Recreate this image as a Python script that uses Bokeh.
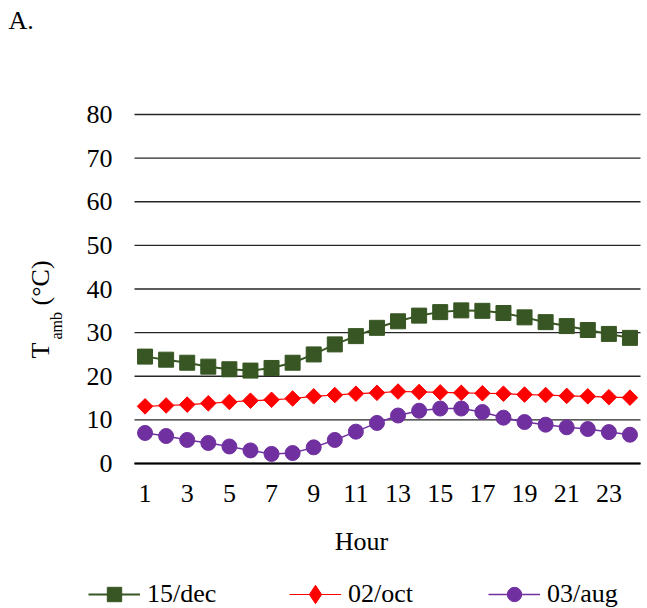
from math import pi

from bokeh.embed import file_html
from bokeh.models import (ColumnDataSource, FixedTicker, Label, Legend,
                          LegendItem, Range1d)
from bokeh.plotting import figure
from bokeh.resources import INLINE

# Hourly ambient temperature (°C) for three days
hours = list(range(1, 25))
dec15 = [24.5, 23.8, 23.1, 22.2, 21.6, 21.3, 21.9, 23.1, 25.0, 27.3, 29.2, 31.1,
         32.6, 33.9, 34.7, 35.1, 35.0, 34.5, 33.5, 32.4, 31.5, 30.6, 29.7, 28.8]
oct02 = [13.1, 13.3, 13.5, 13.8, 14.1, 14.4, 14.6, 14.9, 15.4, 15.7, 16.0, 16.2,
         16.5, 16.4, 16.3, 16.2, 16.1, 16.0, 15.8, 15.7, 15.5, 15.4, 15.2, 15.1]
aug03 = [7.0, 6.3, 5.4, 4.7, 3.9, 3.0, 2.2, 2.4, 3.7, 5.4, 7.3, 9.3,
         11.0, 12.1, 12.6, 12.6, 11.8, 10.5, 9.5, 8.9, 8.3, 7.9, 7.2, 6.6]
series_names = ["15/dec", "02/oct", "03/aug"]
x_ticks = [1, 3, 5, 7, 9, 11, 13, 15, 17, 19, 21, 23]
y_ticks = [0, 10, 20, 30, 40, 50, 60, 70, 80]

FONT = "Liberation Serif"
FS = "26px"

# The frame fills the whole canvas; the plotting area (hours 0.5..24.5,
# 0..80 °C) sits inside it, and the axes are pinned to its edges.
W, H = 647, 608
PA_LEFT, PA_RIGHT, PA_TOP, PA_BOTTOM = 134, 640, 114, 463
X_LO, X_HI = 0.5, 24.5
Y_LO, Y_HI = 0, 80
kx = (X_HI - X_LO) / (PA_RIGHT - PA_LEFT)
ky = (Y_HI - Y_LO) / (PA_BOTTOM - PA_TOP)
x_range = Range1d(X_LO - PA_LEFT * kx, X_HI + (W - PA_RIGHT) * kx)
y_range = Range1d(Y_LO - (H - PA_BOTTOM) * ky, Y_HI + PA_TOP * ky)

src = ColumnDataSource(dict(hour=hours, dec15=dec15, oct02=oct02, aug03=aug03))
grid_src = ColumnDataSource(dict(y=y_ticks, x0=[X_LO] * len(y_ticks),
                                 x1=[X_HI] * len(y_ticks)))

p = figure(width=W, height=H, output_backend="svg", toolbar_location=None,
           title=None, x_range=x_range, y_range=y_range,
           min_border=0, min_border_left=0, min_border_right=0,
           min_border_top=0, min_border_bottom=0)
p.outline_line_color = None
p.background_fill_color = "white"
p.border_fill_color = "white"
p.xgrid.visible = False
p.ygrid.visible = False

# horizontal gridlines across the plotting area
p.segment(x0="x0", x1="x1", y0="y", y1="y", source=grid_src,
          line_color="#262626", line_width=1.3)

# axes pinned to the plotting area's edges
p.xaxis.fixed_location = Y_LO
p.yaxis.fixed_location = X_LO
p.xaxis.bounds = (X_LO, X_HI)
p.yaxis.bounds = (Y_LO, Y_HI)
p.xaxis.ticker = FixedTicker(ticks=x_ticks)
p.yaxis.ticker = FixedTicker(ticks=y_ticks)
for ax in (p.xaxis[0], p.yaxis[0]):
    ax.major_label_text_font = FONT
    ax.major_label_text_font_size = FS
    ax.major_label_text_color = "black"
    ax.major_tick_line_color = None
    ax.minor_tick_line_color = None
    ax.major_tick_out = 0
    ax.major_tick_in = 0
p.yaxis.axis_line_color = None
p.yaxis.major_label_standoff = 22
p.xaxis.axis_line_color = "black"
p.xaxis.axis_line_width = 2
p.xaxis.major_label_standoff = 21

# series
r1l = p.line("hour", "dec15", source=src, color="#375623", line_width=2)
r1m = p.scatter("hour", "dec15", source=src, marker="square", size=15,
                fill_color="#375623", line_color="#375623")
r2l = p.line("hour", "oct02", source=src, color="#FF0000", line_width=1.2)
# small diamonds used as the legend swatch (legend swatches ignore marker
# angle); they sit fully under the rotated-square markers drawn next
r2key = p.scatter("hour", "oct02", source=src, marker="diamond", size=8,
                  fill_color="#FF0000", line_color="#FF0000")
r2m = p.scatter("hour", "oct02", source=src, marker="square", angle=pi / 4,
                size=11, fill_color="#FF0000", line_color="#FF0000")
r3l = p.line("hour", "aug03", source=src, color="#7030A0", line_width=1.5)
r3m = p.scatter("hour", "aug03", source=src, marker="circle", size=15,
                fill_color="#7030A0", line_color="#7030A0")

# one legend entry per series, laid out in a row under the chart
LEG_CY = 594  # canvas y of the legend row's centre
entries = [
    (series_names[0], [r1l, r1m], 88, 36),
    (series_names[1], [r2l, r2key], 289, 46),
    (series_names[2], [r3l, r3m], 488, 36),
]
for name, rends, left, gh in entries:
    lg = Legend(items=[LegendItem(label=name, renderers=rends)],
                orientation="horizontal",
                location=(left, H - (LEG_CY - gh / 2) - gh),
                glyph_width=52, glyph_height=gh, label_standoff=7,
                padding=0, margin=0, border_line_color=None,
                background_fill_alpha=0, label_text_font=FONT,
                label_text_font_size=FS, label_text_color="black")
    p.add_layout(lg, "center")

# axis titles and panel tag (screen units from the canvas' bottom-left)
txt = dict(x_units="screen", y_units="screen", text_font=FONT,
           text_color="black", text_baseline="alphabetic")
p.add_layout(Label(x=8, y=H - 20, text="A.", text_align="left",
                   text_font_size=FS, **txt))
p.add_layout(Label(x=361, y=H - 541, text="Hour", text_align="center",
                   text_font_size=FS, **txt))
p.add_layout(Label(x=40, y=H - 358, text="T", angle=90, angle_units="deg",
                   text_align="left", text_font_size=FS, **txt))
p.add_layout(Label(x=56, y=H - 339, text="amb", angle=90, angle_units="deg",
                   text_align="left", text_font_size="16px", **txt))
p.add_layout(Label(x=40, y=H - 305, text="(°C)", angle=90, angle_units="deg",
                   text_align="left", text_font_size=FS, **txt))

open("out.html", "w").write(file_html(p, INLINE))
